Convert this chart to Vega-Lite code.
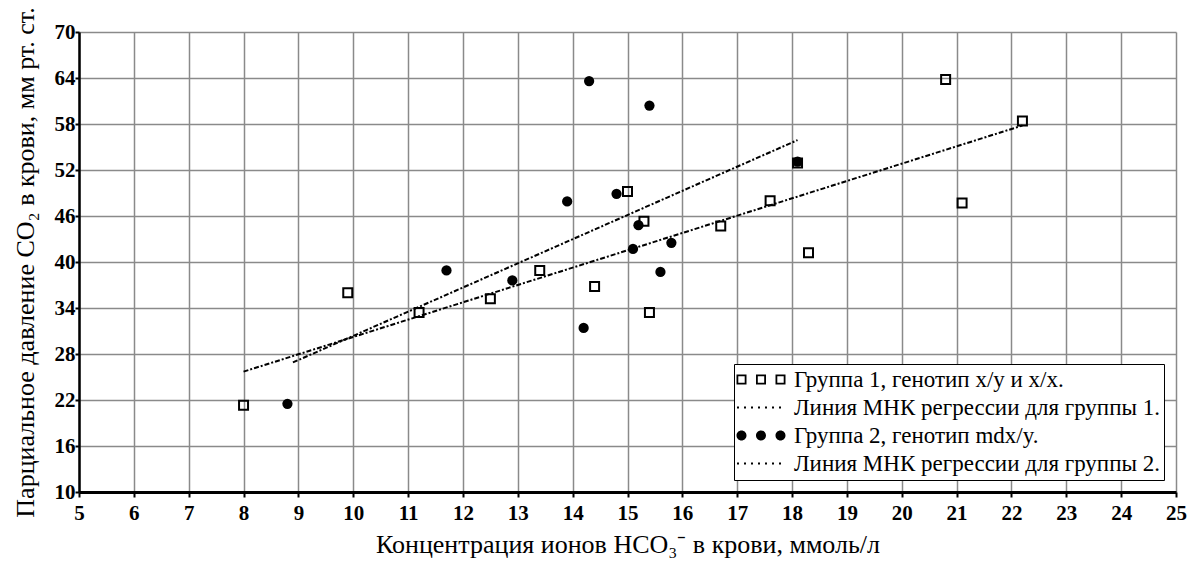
{
  "$schema": "https://vega.github.io/schema/vega-lite/v6.json",
  "width": 1097,
  "height": 460,
  "autosize": {"type": "none"},
  "padding": {"left": 79, "top": 32, "right": 19, "bottom": 78},
  "background": "white",
  "config": {
    "view": {"stroke": null},
    "font": "Liberation Serif, serif",
    "axis": {
      "labelFont": "Liberation Serif, serif",
      "labelFontWeight": "bold",
      "labelFontSize": 21,
      "labelColor": "black",
      "titleFont": "Liberation Serif, serif",
      "titleFontWeight": "normal",
      "titleFontSize": 26,
      "titleColor": "black",
      "domainColor": "black",
      "tickColor": "black",
      "tickWidth": 2,
      "gridColor": "#8a8a8a",
      "gridWidth": 1.5,
      "gridOpacity": 1
    },
    "legend": {
      "labelFont": "Liberation Serif, serif"
    }
  },
  "data": {
    "values": [
      {"series": "Группа 1, генотип x/y и x/x.", "hco3": 8.0, "pco2": 21.3},
      {"series": "Группа 1, генотип x/y и x/x.", "hco3": 9.9, "pco2": 36.0},
      {"series": "Группа 1, генотип x/y и x/x.", "hco3": 11.2, "pco2": 33.4},
      {"series": "Группа 1, генотип x/y и x/x.", "hco3": 12.5, "pco2": 35.2},
      {"series": "Группа 1, генотип x/y и x/x.", "hco3": 13.4, "pco2": 38.9},
      {"series": "Группа 1, генотип x/y и x/x.", "hco3": 14.4, "pco2": 36.8},
      {"series": "Группа 1, генотип x/y и x/x.", "hco3": 15.0, "pco2": 49.2},
      {"series": "Группа 1, генотип x/y и x/x.", "hco3": 15.3, "pco2": 45.3},
      {"series": "Группа 1, генотип x/y и x/x.", "hco3": 15.4, "pco2": 33.4},
      {"series": "Группа 1, генотип x/y и x/x.", "hco3": 16.7, "pco2": 44.7},
      {"series": "Группа 1, генотип x/y и x/x.", "hco3": 17.6, "pco2": 48.0},
      {"series": "Группа 1, генотип x/y и x/x.", "hco3": 18.1, "pco2": 52.9},
      {"series": "Группа 1, генотип x/y и x/x.", "hco3": 18.3, "pco2": 41.2},
      {"series": "Группа 1, генотип x/y и x/x.", "hco3": 20.8, "pco2": 63.8},
      {"series": "Группа 1, генотип x/y и x/x.", "hco3": 21.1, "pco2": 47.7},
      {"series": "Группа 1, генотип x/y и x/x.", "hco3": 22.2, "pco2": 58.4},
      {"series": "Группа 2, генотип mdx/y.", "hco3": 8.8, "pco2": 21.5},
      {"series": "Группа 2, генотип mdx/y.", "hco3": 11.7, "pco2": 38.9},
      {"series": "Группа 2, генотип mdx/y.", "hco3": 12.9, "pco2": 37.6},
      {"series": "Группа 2, генотип mdx/y.", "hco3": 13.9, "pco2": 47.9},
      {"series": "Группа 2, генотип mdx/y.", "hco3": 14.2, "pco2": 31.4},
      {"series": "Группа 2, генотип mdx/y.", "hco3": 14.3, "pco2": 63.6},
      {"series": "Группа 2, генотип mdx/y.", "hco3": 14.8, "pco2": 48.9},
      {"series": "Группа 2, генотип mdx/y.", "hco3": 15.1, "pco2": 41.7},
      {"series": "Группа 2, генотип mdx/y.", "hco3": 15.2, "pco2": 44.8},
      {"series": "Группа 2, генотип mdx/y.", "hco3": 15.4, "pco2": 60.4},
      {"series": "Группа 2, генотип mdx/y.", "hco3": 15.6, "pco2": 38.7},
      {"series": "Группа 2, генотип mdx/y.", "hco3": 15.8, "pco2": 42.5},
      {"series": "Группа 2, генотип mdx/y.", "hco3": 18.1, "pco2": 53.1},
      {"series": "Линия МНК регрессии для группы 1.", "hco3": 8.0, "pco2": 25.7},
      {"series": "Линия МНК регрессии для группы 1.", "hco3": 22.2, "pco2": 57.8},
      {"series": "Линия МНК регрессии для группы 2.", "hco3": 8.9, "pco2": 26.9},
      {"series": "Линия МНК регрессии для группы 2.", "hco3": 18.1, "pco2": 55.9}
    ]
  },
  "encoding": {
    "x": {
      "field": "hco3", "type": "quantitative",
      "scale": {"domain": [5, 25], "nice": false, "zero": false},
      "axis": {
        "title": "Концентрация ионов HCO₃⁻ в крови, ммоль/л",
        "values": [5,6,7,8,9,10,11,12,13,14,15,16,17,18,19,20,21,22,23,24,25],
        "domainWidth": 3, "tickSize": 5, "labelPadding": 5, "labelDx": 4,
        "titlePadding": 8, "labelFlush": false, "labelOverlap": false
      }
    },
    "y": {
      "field": "pco2", "type": "quantitative",
      "scale": {"domain": [10, 70], "nice": false, "zero": false},
      "axis": {
        "title": "Парциальное давление CO₂ в крови, мм рт. ст.",
        "values": [10,16,22,28,34,40,46,52,58,64,70],
        "domainWidth": 2.5, "tickSize": 4, "labelPadding": 0,
        "titlePadding": 16, "labelFlush": false, "labelOverlap": false
      }
    }
  },
  "layer": [
    {
      "transform": [{"filter": "indexof(datum.series, 'Линия') == 0"}],
      "mark": {"type": "point", "filled": true, "fill": "black", "strokeWidth": 0, "opacity": 0},
      "encoding": {
        "shape": {
          "field": "series", "type": "nominal",
          "scale": {
            "domain": ["Группа 1, генотип x/y и x/x.", "Линия МНК регрессии для группы 1.", "Группа 2, генотип mdx/y.", "Линия МНК регрессии для группы 2."],
            "range": [
              "M-2.6,-1H-0.6V1H-2.6Z M-2.24,-0.64V0.64H-0.96V-0.64Z M1.3,-1H3.3V1H1.3Z M1.66,-0.64V0.64H2.94V-0.64Z M5.2,-1H7.2V1H5.2Z M5.56,-0.64V0.64H6.84V-0.64Z",
              "M-2.5,-0.2h0.4v0.4h-0.4Z M-1.1,-0.2h0.4v0.4h-0.4Z M0.3,-0.2h0.4v0.4h-0.4Z M1.7,-0.2h0.4v0.4h-0.4Z M3.1,-0.2h0.4v0.4h-0.4Z M4.5,-0.2h0.4v0.4h-0.4Z M5.9,-0.2h0.4v0.4h-0.4Z",
              "M-2.6,0A1,1 0 1,0 -0.6,0A1,1 0 1,0 -2.6,0Z M1.3,0A1,1 0 1,0 3.3,0A1,1 0 1,0 1.3,0Z M5.2,0A1,1 0 1,0 7.2,0A1,1 0 1,0 5.2,0Z",
              "M-2.5,-0.2h0.4v0.4h-0.4Z M-1.1,-0.2h0.4v0.4h-0.4Z M0.3,-0.2h0.4v0.4h-0.4Z M1.7,-0.2h0.4v0.4h-0.4Z M3.1,-0.2h0.4v0.4h-0.4Z M4.5,-0.2h0.4v0.4h-0.4Z M5.9,-0.2h0.4v0.4h-0.4Z"
            ]
          },
          "legend": {
            "title": null,
            "orient": "bottom-right",
            "offset": 12,
            "padding": 4,
            "rowPadding": 4,
            "labelFont": "Liberation Serif, serif",
            "labelFontSize": 23,
            "labelColor": "black",
            "labelLimit": 0,
            "labelOffset": 33,
            "symbolSize": 100,
            "symbolFillColor": "black",
            "symbolStrokeColor": "black",
            "symbolStrokeWidth": 0,
            "symbolOpacity": 1,
            "fillColor": "white",
            "strokeColor": "black",
            "encode": {
              "legend": {"strokeWidth": {"value": 3}}
            }
          }
        }
      }
    },
    {
      "transform": [{"filter": "indexof(datum.series, 'Линия') == 0"}],
      "mark": {"type": "line", "color": "black", "strokeWidth": 2, "strokeDash": [5, 2, 2, 2]},
      "encoding": {"detail": {"field": "series"}}
    },
    {
      "transform": [{"filter": "datum.series == 'Группа 1, генотип x/y и x/x.'"}],
      "mark": {"type": "point", "shape": "square", "filled": false, "stroke": "black", "strokeWidth": 2, "size": 81, "opacity": 1}
    },
    {
      "transform": [{"filter": "datum.series == 'Группа 2, генотип mdx/y.'"}],
      "mark": {"type": "point", "shape": "circle", "filled": true, "fill": "black", "stroke": null, "size": 105, "opacity": 1}
    }
  ]
}
